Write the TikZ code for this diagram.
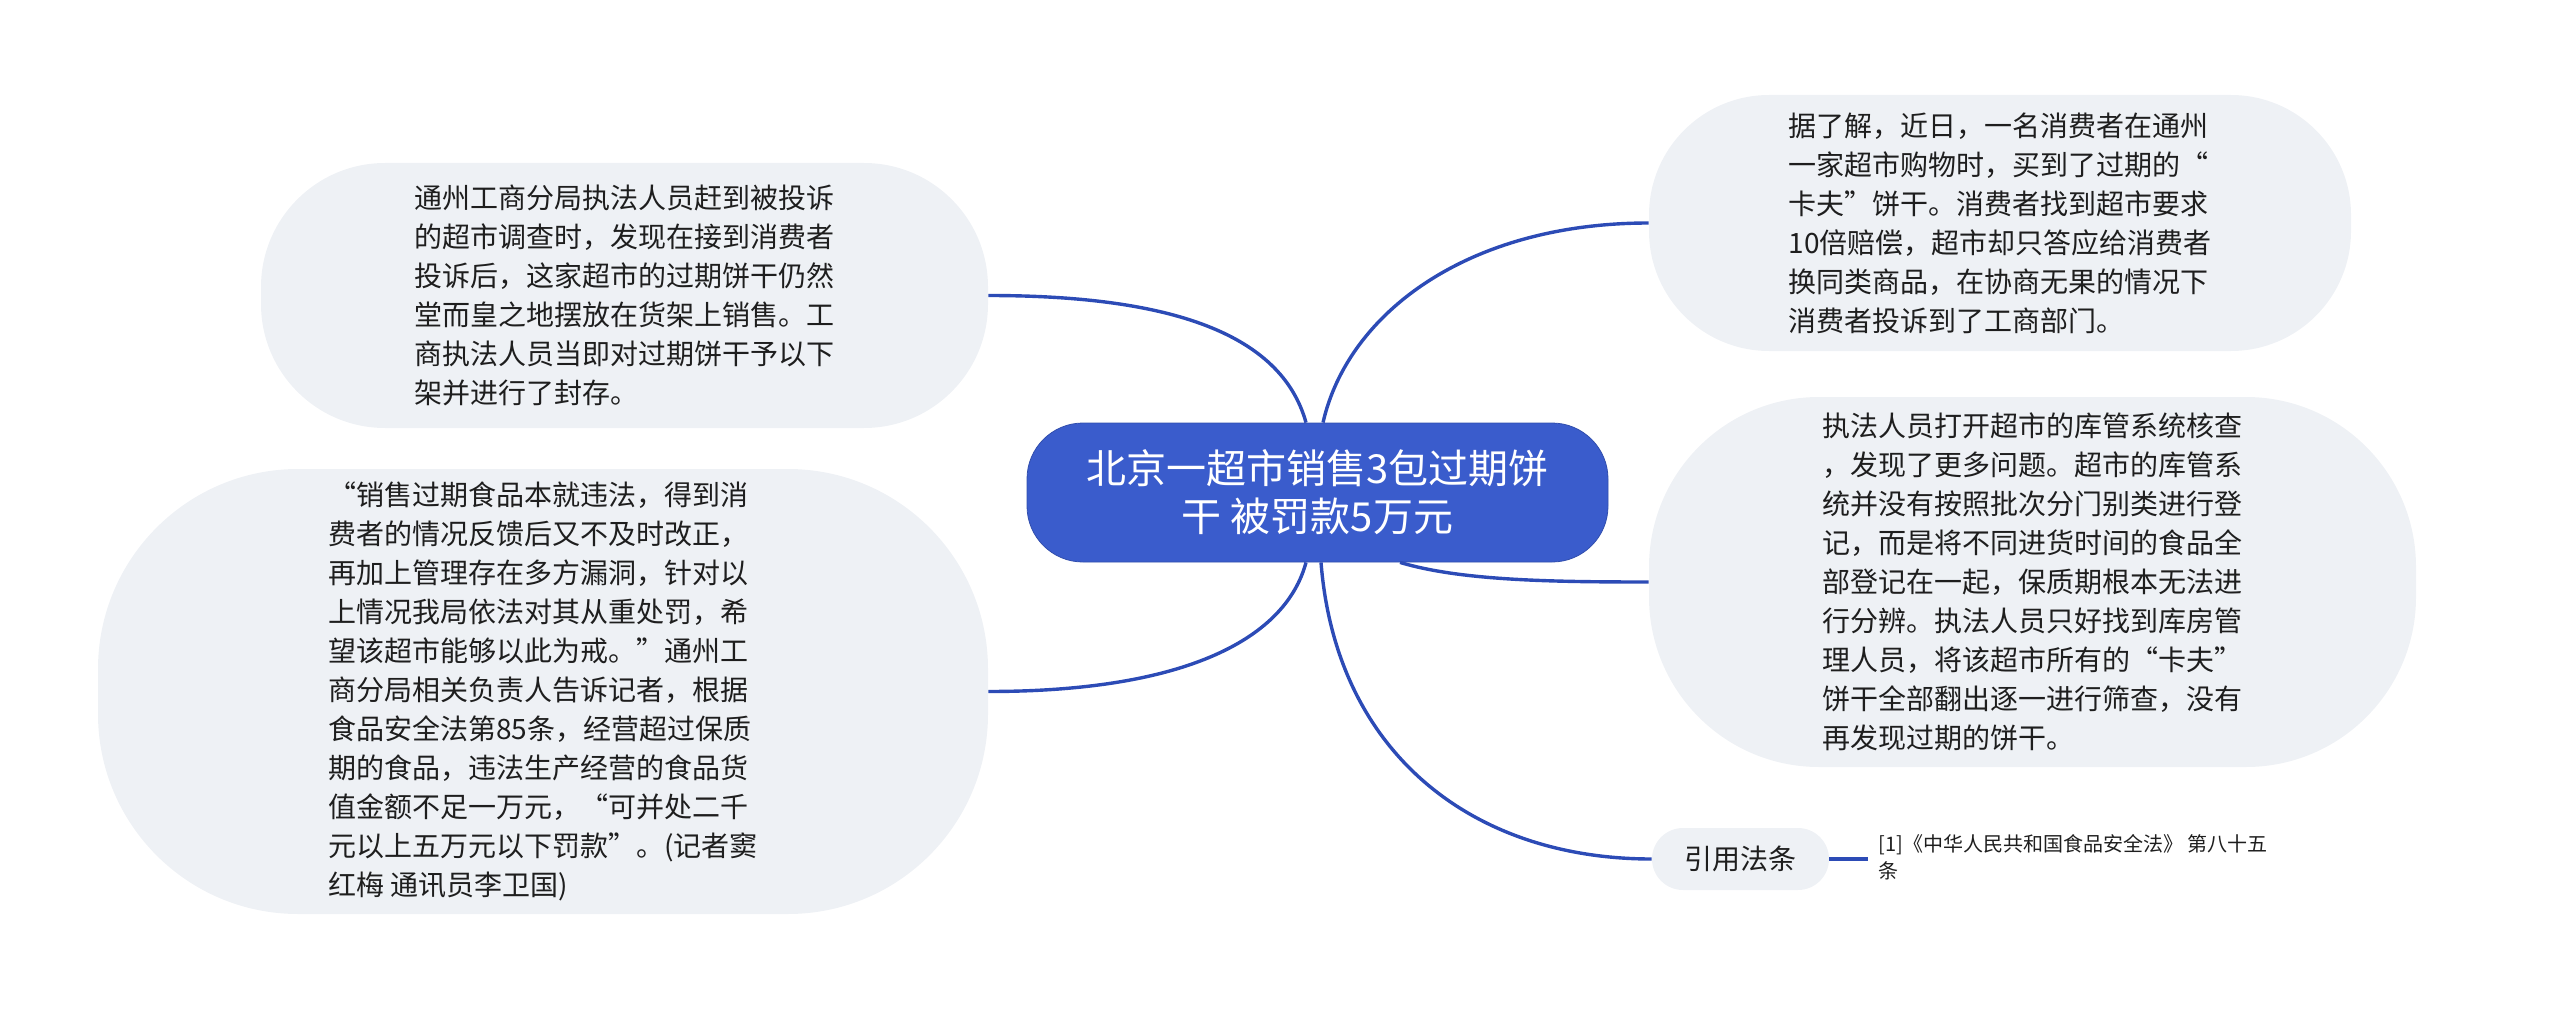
\documentclass[tikz,border=0pt]{standalone}
\usepackage{fontspec}
\setmainfont{Noto Sans CJK SC}
\usetikzlibrary{calc}
\definecolor{edgeblue}{RGB}{44,75,182}
\definecolor{rootblue}{RGB}{58,92,204}
\definecolor{bubblefill}{RGB}{238,241,245}
\definecolor{txt}{RGB}{30,30,30}
\begin{document}
\begin{tikzpicture}[x=0.5pt,y=-0.5pt,
  bubblebox/.style={fill=bubblefill, draw=none, align=left, text=txt,
    font=\fontsize{14pt}{19.5pt}\selectfont, inner sep=0pt},
  rootbox/.style={fill=rootblue, draw=rootblue!85!black, line width=0.4pt, rounded corners=28pt, text=white, align=center,
    font=\fontsize{20pt}{24pt}\selectfont, minimum width=290.5pt, minimum height=69.5pt, inner sep=0pt},
  link/.style={draw=edgeblue, line width=1.7pt}]
\useasboundingbox (0,0) rectangle (2560,1011);

\node[rootbox] (root) at (1317.5,492.5) {北京一超市销售3包过期饼\\干 被罚款5万元};

\node[bubblebox, minimum width=363.5pt, minimum height=132.5pt, rounded corners=62pt] (tl) at (624.5,295.5)
 {通州工商分局执法人员赶到被投诉\\的超市调查时，发现在接到消费者\\投诉后，这家超市的过期饼干仍然\\堂而皇之地摆放在货架上销售。工\\商执法人员当即对过期饼干予以下\\架并进行了封存。};

\node[bubblebox, minimum width=351pt, minimum height=128pt, rounded corners=60pt] (tr) at (2000,223)
 {据了解，近日，一名消费者在通州\\一家超市购物时，买到了过期的“\\卡夫”饼干。消费者找到超市要求\\10倍赔偿，超市却只答应给消费者\\换同类商品，在协商无果的情况下\\消费者投诉到了工商部门。};

\node[bubblebox, minimum width=383.5pt, minimum height=185pt, rounded corners=85pt] (mr) at (2032.5,582)
 {执法人员打开超市的库管系统核查\\，发现了更多问题。超市的库管系\\统并没有按照批次分门别类进行登\\记，而是将不同进货时间的食品全\\部登记在一起，保质期根本无法进\\行分辨。执法人员只好找到库房管\\理人员，将该超市所有的“卡夫”\\饼干全部翻出逐一进行筛查，没有\\再发现过期的饼干。};

\node[bubblebox, minimum width=445pt, minimum height=222.5pt, rounded corners=100pt] (lb) at (543,691.5)
 {“销售过期食品本就违法，得到消\\费者的情况反馈后又不及时改正，\\再加上管理存在多方漏洞，针对以\\上情况我局依法对其从重处罚，希\\望该超市能够以此为戒。”通州工\\商分局相关负责人告诉记者，根据\\食品安全法第85条，经营超过保质\\期的食品，违法生产经营的食品货\\值金额不足一万元，“可并处二千\\元以上五万元以下罚款”。(记者窦\\红梅 通讯员李卫国)};

\node[bubblebox, align=center, minimum width=88.5pt, minimum height=31pt, rounded corners=15.5pt] (cite) at (1740.5,859) {引用法条};

\node[anchor=west, align=left, text=txt, inner xsep=5pt, inner ysep=0pt,
  font=\fontsize{10pt}{13.5pt}\selectfont] (citetext) at (1868,857)
 {[1]《中华人民共和国食品安全法》 第八十五\\条};

\coordinate (s1) at ($(root.north)+(-11.5,0)$);
\coordinate (s2) at ($(root.north)+(5.5,0)$);
\coordinate (s3) at ($(root.south)+(-11.5,0)$);
\coordinate (s4) at ($(root.south)+(3.5,0)$);
\coordinate (s5) at ($(root.south)+(82.5,0)$);

\draw[link] (s1) .. controls +(-25,-90) and +(180,0) .. (tl.east);
\draw[link] (s2) .. controls +(25,-110) and +(-180,0) .. (tr.west);
\draw[link] (s3) .. controls +(-20,75) and +(200,0) .. (lb.east);
\draw[link] (s4) .. controls +(15,190) and +(-180,0) .. (cite.west);
\draw[link] (s5) .. controls +(60,18) and +(-100,0) .. (mr.west);
\draw[link] (cite.east) -- (cite.east -| citetext.west);
\end{tikzpicture}
\end{document}
